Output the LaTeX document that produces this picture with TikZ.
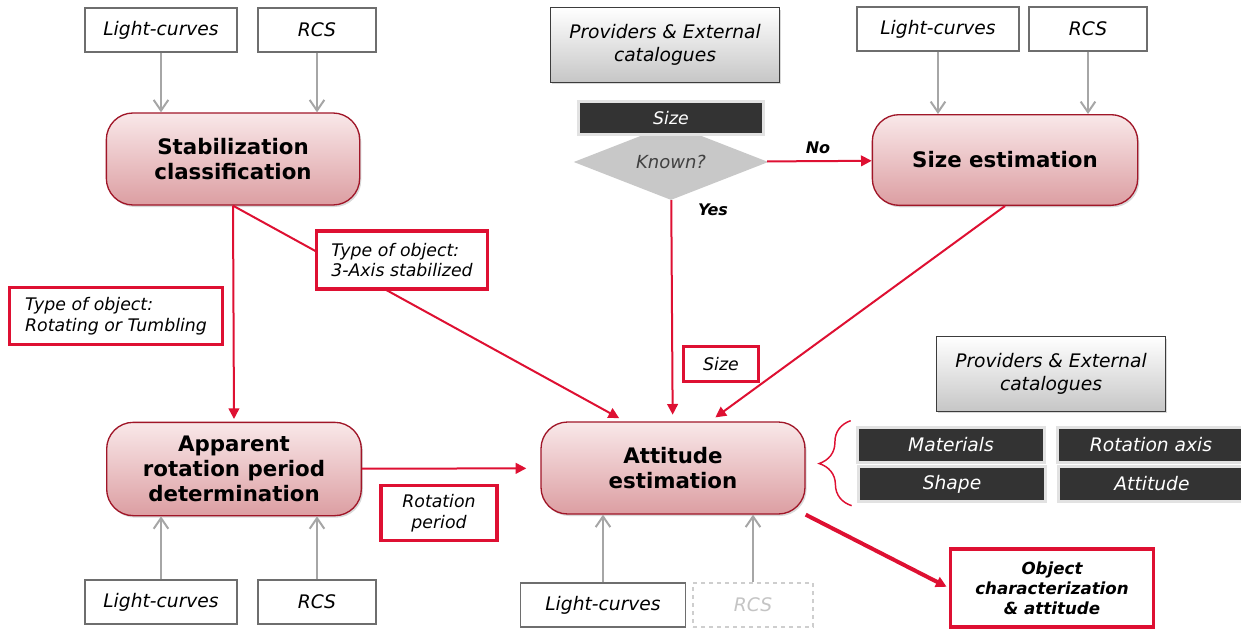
\documentclass[tikz,border=0pt]{standalone}
\usepackage{fontspec}
\setmainfont{DejaVu Sans}
\usetikzlibrary{arrows.meta,shapes.geometric,shadows,decorations.pathreplacing}

\definecolor{linered}{RGB}{222,16,50}
\definecolor{procedge}{RGB}{160,22,40}
\definecolor{proctop}{RGB}{249,232,233}
\definecolor{procbot}{RGB}{220,158,162}
\definecolor{srcedge}{RGB}{60,60,60}
\definecolor{srcbot}{RGB}{198,198,198}
\definecolor{tagdark}{RGB}{51,51,51}
\definecolor{tagrim}{RGB}{226,226,226}
\definecolor{inedge}{RGB}{110,110,110}
\definecolor{feedgray}{RGB}{166,166,166}
\definecolor{diamgray}{RGB}{200,200,200}
\definecolor{darktext}{RGB}{64,64,64}

\begin{document}
\begin{tikzpicture}[x=0.75pt, y=-0.75pt,
  datain/.style={draw=inedge, fill=white, line width=0.9pt, inner sep=0pt,
    minimum height=33pt, font=\fontsize{14}{17}\selectfont\itshape},
  process/.style={draw=procedge, line width=1pt, rounded corners=20pt,
    top color=proctop, bottom color=procbot, align=center,
    drop shadow={opacity=0.3, shadow xshift=1.2pt, shadow yshift=-1.5pt},
    font=\fontsize{16}{19}\selectfont\bfseries},
  source/.style={draw=srcedge, line width=1pt, top color=white, bottom color=srcbot,
    drop shadow={opacity=0.3, shadow xshift=1.2pt, shadow yshift=-1.5pt},
    align=center, minimum width=172pt, minimum height=56pt,
    font=\fontsize{14}{17}\selectfont\itshape},
  tag/.style={fill=tagdark, draw=tagrim, line width=2.5pt, text=white, inner sep=0pt,
    minimum width=140pt, minimum height=26pt, font=\fontsize{14}{16}\selectfont\itshape},
  note/.style={draw=linered, fill=white, line width=2.5pt, inner sep=0pt, align=left,
    font=\fontsize{13}{15.5}\selectfont\itshape},
  answer/.style={font=\fontsize{12}{14}\selectfont\bfseries\itshape},
  feed/.style={draw=feedgray, line width=1.5pt, -{Straight Barb[length=8pt,width=11pt]}},
  flow/.style={draw=linered, line width=1.5pt, -{Triangle[length=8pt,width=8pt]}, shorten >=5pt}
]
\useasboundingbox (0,0) rectangle (1241,628);

\node[datain, minimum width=114pt] (lcA) at (161,30) {Light-curves};
\node[datain, minimum width=88.5pt] (rcsA) at (317,30) {RCS};
\node[datain, minimum width=121.5pt] (lcB) at (938,29) {Light-curves};
\node[datain, minimum width=88.5pt] (rcsB) at (1088,29) {RCS};
\node[datain, minimum width=114pt] (lcC) at (161,602) {Light-curves};
\node[datain, minimum width=88.5pt] (rcsC) at (317,602) {RCS};
\node[datain, minimum width=124pt] (lcD) at (603,605) {Light-curves};
\node[datain, minimum width=90pt, draw=tagrim!80!gray, dashed, text=tagrim!70!gray] (rcsD) at (753,605) {RCS};

\node[process, minimum width=190pt, minimum height=69pt] (stab) at (233,159) {Stabilization\\classification};
\node[process, minimum width=199pt, minimum height=68pt] (sizeest) at (1005,160) {Size estimation};
\node[process, minimum width=191pt, minimum height=70pt] (appar) at (234,469) {Apparent\\rotation period\\determination};
\node[process, minimum width=198pt, minimum height=69pt] (att) at (673,468) {Attitude\\estimation};

\node[source] (provA) at (665,45) {Providers \& External\\catalogues};
\node[source] (provB) at (1051,374) {Providers \& External\\catalogues};

\node[diamond, aspect=2.6, fill=diamgray, inner sep=0pt, minimum width=146pt, minimum height=57pt,
  text=darktext, font=\fontsize{13.5}{15}\selectfont\itshape] (known) at (671,162) {Known?};
\node[tag, minimum width=139pt, minimum height=25pt, font=\fontsize{13}{15}\selectfont\itshape] (sizetag) at (671,118) {Size};

\node[tag] (materials) at (951,445) {Materials};
\node[tag] (rotaxis) at (1151,445) {Rotation axis};
\node[tag] (shape) at (952,484) {Shape};
\node[tag] (attitude) at (1152,484) {Attitude};

\draw[feed] (lcA) -- (lcA |- stab.north);
\draw[feed] (rcsA) -- (rcsA |- stab.north);
\draw[feed] (lcB) -- (lcB |- sizeest.north);
\draw[feed] (rcsB) -- (rcsB |- sizeest.north);
\draw[feed] (lcC) -- (lcC |- appar.south);
\draw[feed] (rcsC) -- (rcsC |- appar.south);
\draw[feed] (lcD) -- (lcD |- att.south);
\draw[feed] (rcsD) -- (rcsD |- att.south);

\draw[flow, shorten >=0pt] (known) -- (sizeest);
\draw[flow] (known) -- (att);
\draw[flow, shorten >=2pt] (stab.south) -- (appar.north);
\draw[flow] (stab.south) -- ([xshift=-36pt]att.north);
\draw[flow] (sizeest.south) -- ([xshift=27.75pt]att.north);
\draw[flow, shorten >=10.5pt] (appar) -- (att);

\node[answer] (no) at (818,148) {No};
\node[answer] (yes) at (713,210) {Yes};

\node[note, minimum width=128pt, minimum height=43.5pt] (axis3) at (402,260) {Type of object:\\3-Axis stabilized};
\node[note, minimum width=160pt, minimum height=43pt] (tumble) at (116,316) {Type of object:\\Rotating or Tumbling};
\node[note, minimum width=56pt, minimum height=26pt] (sizenote) at (721,364) {Size};
\node[note, align=center, minimum width=87pt, minimum height=41pt] (period) at (439,513) {Rotation\\period};
\node[note, align=center, minimum width=152pt, minimum height=58.5pt,
  font=\fontsize{12.5}{15}\selectfont\bfseries\itshape] (result) at (1052,588) {Object\\characterization\\\& attitude};

\draw[flow, line width=3pt, shorten >=2pt] (att.south east) -- (result.west);

\draw[linered, line width=1.1pt, decorate, decoration={brace, amplitude=24pt}]
  ([xshift=-4pt, yshift=-2pt]shape.south west) -- ([xshift=-4pt, yshift=4pt]materials.north west);
\end{tikzpicture}
\end{document}
